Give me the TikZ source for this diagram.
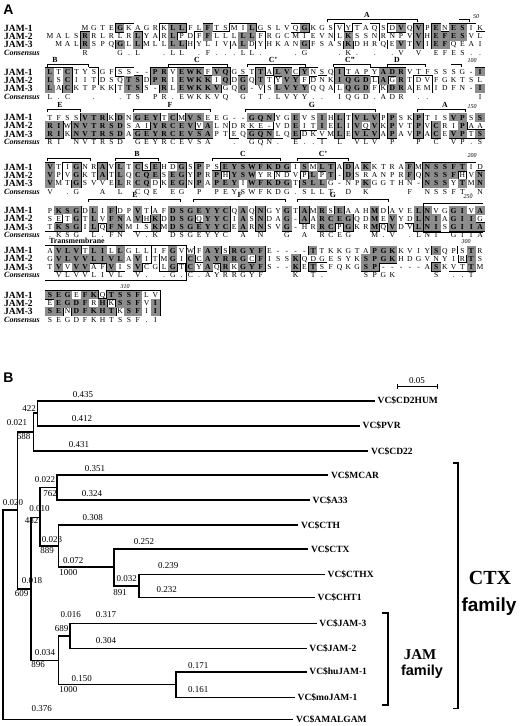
\documentclass[tikz,border=0pt]{standalone}
\usepackage{fontspec}
\setmainfont{Liberation Serif}
\newfontfamily\sansbf{Liberation Sans}
\usepackage{xstring}
\usetikzlibrary{positioning}

% geometry of the alignment (1 unit = 1 px)
\def\alnx{50}
\def\alnw{8.776}
\def\alnh{8.2}
\def\halfw{4.388}
\def\halfh{4.1}

% similarity groups of residues
\newcommand\setgrp[2]{\expandafter\gdef\csname grp#1\endcsname{#2}}
\setgrp S{st}\setgrp T{st}
\setgrp I{hy}\setgrp L{hy}\setgrp V{hy}\setgrp M{hy}
\setgrp F{ar}\setgrp Y{ar}\setgrp W{ar}
\setgrp K{bs}\setgrp R{bs}
\setgrp D{ac}\setgrp E{ac}
\setgrp N{am}\setgrp Q{am}
\newcommand\resgrp[1]{\ifcsname grp#1\endcsname\csname grp#1\endcsname\else#1\fi}

\newif\ifvA \newif\ifvB \newif\ifvC \newif\ifhasm

% class of one residue: 0 plain, 1 boxed, 2 shaded
\newcommand\rowclass[8]{%
  \def#4{0}%
  #3%
    \ifhasm
      \if#1\cm\def#4{2}\else\ifx#2\gM\def#4{1}\fi\fi
    \else
      #6\ifx#2#5\def#4{1}\fi\fi
      #8\ifx#2#7\def#4{1}\fi\fi
    \fi
  \fi}

\newcommand\colclass{%
  \vAtrue\if*\ca\vAfalse\fi\if-\ca\vAfalse\fi
  \vBtrue\if*\cb\vBfalse\fi\if-\cb\vBfalse\fi
  \vCtrue\if*\cc\vCfalse\fi\if-\cc\vCfalse\fi
  \hasmfalse
  \ifvA\if\ca\cb\hasmtrue\let\cm\ca\fi\if\ca\cc\hasmtrue\let\cm\ca\fi\fi
  \ifhasm\else\ifvB\if\cb\cc\hasmtrue\let\cm\cb\fi\fi\fi
  \edef\gA{\resgrp\ca}\edef\gB{\resgrp\cb}\edef\gC{\resgrp\cc}%
  \ifhasm\edef\gM{\resgrp\cm}\fi
  \rowclass\ca\gA\ifvA\kA\gB\ifvB\gC\ifvC
  \rowclass\cb\gB\ifvB\kB\gA\ifvA\gC\ifvC
  \rowclass\cc\gC\ifvC\kC\gA\ifvA\gB\ifvB
  \ifhasm\edef\cons{\cm}\else\ifnum\kA\kB\kC>0 \def\cons{.}\else\def\cons{}\fi\fi}

% one cell: char, class, y, name; pass 1 outline, 2 fill, 3 letter
\newcommand\resdraw[4]{%
  \ifcase\pass\or
    \ifnum#2>0
      \draw[cellline] (\cx-\halfw,#3-\halfh) rectangle (\cx+\halfw,#3+\halfh);
    \fi
  \or
    \ifnum#2>0
      \ifnum#2=2 \def\cellcol{black!45}\else\def\cellcol{white}\fi
      \fill[fill=\cellcol] (\cx-\halfw-0.2,#3-\halfh-0.2) rectangle (\cx+\halfw+0.2,#3+\halfh+0.2);
    \fi
  \or
    \if*#1\else
      \node[res] (#4) at (\cx,#3) {\ifnum#2=2 \bfseries\fi#1};
    \fi
  \fi}

% one block: id, y of first row, three rows
\newcommand\alnblock[5]{%
  \node[seqname] (n#1a) at (4,#2) {JAM-1};
  \node[seqname] (n#1b) at (4,#2+\alnh) {JAM-2};
  \node[seqname] (n#1c) at (4,#2+2*\alnh) {JAM-3};
  \node[consname] (n#1d) at (4,#2+3*\alnh) {Consensus};
  \StrLen{#3}[\alnlen]%
  \foreach \pass in {1,2,3}{%
  \foreach \i in {1,...,\alnlen}{%
    \StrChar{#3}{\i}[\ca]\StrChar{#4}{\i}[\cb]\StrChar{#5}{\i}[\cc]%
    \colclass
    \pgfmathsetmacro\cx{\alnx+(\i-1)*\alnw}%
    \resdraw{\ca}{\kA}{#2}{b#1a\i}%
    \resdraw{\cb}{\kB}{#2+\alnh}{b#1b\i}%
    \resdraw{\cc}{\kC}{#2+2*\alnh}{b#1c\i}%
    \ifnum\pass=3
      \node[res] (b#1d\i) at (\cx,#2+3*\alnh) {\cons};
    \fi
  }}}

% domain brackets: id, y of line, list x1/x2/xlabel/label
\newcommand\domains[3]{%
  \foreach \xa/\xb/\xl/\dl [count=\k] in {#3}{%
    \draw[domline] (\xa,#2+2.5) -- (\xa,#2) -- (\xb,#2) -- (\xb,#2+2.5);
    \node[domlab] (dom#1\k) at (\xl,#2-4.5) {\dl};
  }}

\tikzset{
  res/.style={inner sep=0pt, text height=5pt, text depth=0pt, font=\fontsize{7.6}{7.6}\selectfont},
  seqname/.style={anchor=west, inner sep=0pt, font=\fontsize{9.5}{9.5}\selectfont\bfseries},
  consname/.style={anchor=west, inner sep=0pt, font=\fontsize{8}{8}\selectfont\bfseries\itshape},
  cellline/.style={line width=1.6pt},
  domline/.style={line width=0.8pt},
  domlab/.style={inner sep=0pt, font=\fontsize{7.8}{7.8}\selectfont\bfseries},
  posnum/.style={inner sep=0pt, font=\fontsize{6}{6}\selectfont\itshape},
  tmline/.style={line width=0.9pt},
  panel/.style={inner sep=0pt, font=\fontsize{14}{14}\selectfont\sansbf\bfseries},
  branch/.style={line width=1.6pt},
  leaf/.style={anchor=west, inner sep=2.5pt, text height=6.3pt, text depth=0pt,
    font=\fontsize{9.5}{9.5}\selectfont\bfseries},
  blen/.style={inner sep=0pt, font=\fontsize{9}{9}\selectfont},
  famname/.style={inner sep=0pt, font=\fontsize{20}{20}\selectfont\bfseries},
  famword/.style={inner sep=0pt, font=\fontsize{19}{19}\selectfont\sansbf\bfseries},
}

\begin{document}
\begin{tikzpicture}[x=1pt,y=-1pt]
\useasboundingbox (0,0) rectangle (520,726);

% ---------- A: alignment ----------
\node[panel] (pa) at (8.5,10) {A};

\alnblock{1}{28}{****MGTEGKAGRKLLFLFTSMILGSLVQGKGSVYTAQSDVQVPENESIK}{MALSRRLRLRLYARLPDFFLLLLLFRGCMIEVNLKSSNRNPVVHEFESVL}{*MALRSPQGLLMLLLLHYLIVALDYHKANGFSASKDHRQEVTVIEFQEAI}
\alnblock{2}{72}{LTCTYSGFSS--PRVEWKFVQGSTTALVCYNSQITAPYADRVTFSSSG-I}{LSCIITDSQTSDPRIEWKKIQDGQTTYVYFDNKIQGDLAGRTDVFGKTSL}{LACKTPKKTTSS-RLEWKKVGQG-VSLVYYQQALQGDFKDRAEMIDFN-I}
\alnblock{3}{117.5}{TFSSVTRKDNGEYTCMVSEEG--GQNYGEVSIHLTVLVPPSKPTISVPSS}{RIWNVTRSDSAIYRCEVVALNDRKE-VDEITIELIVQVKPVTPVCRIPAA}{RIKNVTRSDAGEYRCEVSAPTEQGQNLQEDKVMLEVLVAPAVPACEVPTS}
\alnblock{4}{167}{VTIGNRAVLTCSEHDGSPPSEYSWFKDGISMLTADAKKTRAFMNSSFTID}{VPVGKTATLQCQESEGYPRPHYSWYRNDVPLPT-DSRANPRFQNSSFHVN}{VMTGSVVELRCQDKEGNPAPEYIWFKDGTSLLG-NPKGGTHN-NSSYTMN}
\alnblock{5}{210.5}{PKSGDLIFDPVTAFDSGEYYCQAQNGYGTAMRSEAAHMDAVELNVGGIVA}{SETGTLVFNAVHKDDSGQYYCIASNDAG-AARCEGQDMEVYDLNIAGIIG}{TKSGILQFNMISKMDSGEYYCEARNSVG-HRRCPGKRMQVDVLNISGIIA}
\alnblock{6}{250.5}{AVLVTLILLGLLIFGVWFAYSRGYFE----TTKKGTAPGKKVIYSQPSTR}{GVLVVLIVLAVITMGICCAYRRGCFISSKQDGESYKSPGKHDGVNYIRTS}{TVVVVAFVISVCGLGTCYAQRKGYFS--KETSFQKGSP-----ASKVTTM}
\alnblock{7}{295}{SEGEFKQTSSFLV}{EEGDFRHKSSFVI}{SENDFKHTKSFII}

% domains
\domains{1}{19.5}{327/417/367/A}
\domains{2}{64}{47/88/55/B, 168/227/197/C, 247/305/273/C', 333/370/350/C'', 387/425/397/D}
\domains{3}{109}{47/80/60/E, 133/210/170/F, 245/375/312/G, 417/465/445/A}
\domains{4}{158.5}{47/90/68/{}, 115/158/137/B, 212/280/243/C, 297/348/323/C'}
\domains{5}{199.3}{88/180/135/E, 193/285/240/F, 297/388/333/G}

% numbering
\draw[domline] (459,19.5) -- (469,19.5) -- (469,22);
\node[posnum] (p50) at (476,17) {50};
\draw[domline] (451,64) -- (461,64) -- (461,66.5);
\node[posnum] (p100) at (472,61) {100};
\node[posnum] (p150) at (472,107) {150};
\node[posnum] (p200) at (472,156) {200};
\node[posnum] (p250) at (468,197) {250};
\node[posnum] (p300) at (466,242) {300};
\node[posnum] (p310) at (125,287) {310};

% transmembrane region
\draw[tmline] (483,203) -- (423,203) -- (423,232) -- (483,232);
\draw[tmline] (45,245) -- (186,245) -- (186,280.5) -- (45,280.5);
\node[domlab] (tmlab) at (77,240.5) {Transmembrane};

% ---------- B: tree ----------
\node[panel] (pb) at (8.5,378) {B};

\coordinate (sbl) at (397,386.7);
\coordinate (sbr) at (437,386.7);
\coordinate (sbm) at (417,386.7);
\draw[line width=1pt] (sbl) -- (sbr);
\draw[line width=1pt] ([yshift=2.5pt]sbl) -- ([yshift=-2.5pt]sbl);
\draw[line width=1pt] ([yshift=2.5pt]sbr) -- ([yshift=-2.5pt]sbr);
\node[blen, above=3pt of sbm] (sbtxt) {0.05};

% inner nodes
\coordinate (root) at (2.7,615);
\coordinate (n3) at (17.3,510);
\coordinate (n2) at (33.3,432);
\coordinate (n1) at (37.3,413.2);
\coordinate (n4) at (30.7,589);
\coordinate (n5) at (40,517.5);
\coordinate (n6) at (56.7,487.5);
\coordinate (n7) at (58.3,546);
\coordinate (n8) at (114,567);
\coordinate (n9) at (138.7,585.8);
\coordinate (n10) at (58.3,660.5);
\coordinate (n11) at (70,635.8);
\coordinate (n12) at (175.7,684.5);

% leaves
\node[leaf] (cd2hum) at (375,400.7) {VC\$CD2HUM};
\node[leaf] (pvr) at (360,425.7) {VC\$PVR};
\node[leaf] (cd22) at (368.3,451) {VC\$CD22};
\node[leaf] (mcar) at (328.3,475) {VC\$MCAR};
\node[leaf] (a33) at (310,500) {VC\$A33};
\node[leaf] (cth) at (298.3,525) {VC\$CTH};
\node[leaf] (ctx) at (308.3,549) {VC\$CTX};
\node[leaf] (cthx) at (325,574.3) {VC\$CTHX};
\node[leaf] (cht1) at (315,597.3) {VC\$CHT1};
\node[leaf] (jam3) at (316.7,623.3) {VC\$JAM-3};
\node[leaf] (jam2) at (306.7,648.3) {VC\$JAM-2};
\node[leaf] (hujam1) at (306.7,671.7) {VC\$huJAM-1};
\node[leaf] (mojam1) at (295,697.3) {VC\$moJAM-1};
\node[leaf] (amalgam) at (293.3,719.3) {VC\$AMALGAM};

% branches
\foreach \p/\c in {root/n3, root/amalgam.west, n3/n2, n3/n4, n2/n1, n2/cd22.west,
    n1/cd2hum.west, n1/pvr.west, n4/n5, n4/n10, n5/n6, n5/n7,
    n6/mcar.west, n6/a33.west, n7/cth.west, n7/n8, n8/ctx.west, n8/n9,
    n9/cthx.west, n9/cht1.west, n10/n11, n10/n12,
    n11/jam3.west, n11/jam2.west, n12/hujam1.west, n12/mojam1.west}
  \draw[branch] (\p) |- (\c);

% branch lengths and bootstrap values
\foreach \x/\y/\lab [count=\k] in {83/395/0.435, 82/419/0.412, 29/409/422, 17/423/0.021,
    23.5/437/688, 79/444.3/0.431, 95/468.3/0.351, 45/480/0.022, 50/493.3/762,
    92/493.3/0.324, 13/503/0.020, 39.5/509/0.010, 31.5/521/482, 92.7/517.7/0.308,
    52/539.3/0.023, 144/541.7/0.252, 47/550.7/889, 73.3/560.7/0.072,
    168.3/565.7/0.239, 68.3/572.7/1000, 126.7/578.3/0.032, 32/580.7/0.018,
    166.7/590/0.232, 120/592.7/891, 21.7/594/609, 70.7/615/0.016, 106/615/0.317,
    61.7/628.3/689, 106/641/0.304, 45/652.7/0.034, 38/664.3/896, 198.3/666/0.171,
    81.7/678.3/0.150, 68.3/690/1000, 198.3/690/0.161, 41.7/708.3/0.376}
  \node[blen] (bl\k) at (\x,\y) {\lab};

% families
\coordinate (ctxt) at (458,462.7);
\coordinate (ctxb) at (458,708.3);
\draw[branch] ([xshift=-5pt]ctxt) -- (ctxt) -- (ctxb) -- ([xshift=-5pt]ctxb);
\node[famname] (ctxname) at (490,578) {CTX};
\node[famword] (ctxfam) at (489,607) {family};
\coordinate (jamt) at (388,612.7);
\coordinate (jamb) at (388,705);
\draw[branch] ([xshift=-6pt]jamt) -- (jamt) -- (jamb) -- ([xshift=-6pt]jamb);
\node[famname, font=\fontsize{15}{15}\selectfont\bfseries] (jamname) at (420,655) {JAM};
\node[famword, font=\fontsize{14.5}{14.5}\selectfont\sansbf\bfseries] (jamfam) at (422,672) {family};
\end{tikzpicture}
\end{document}
